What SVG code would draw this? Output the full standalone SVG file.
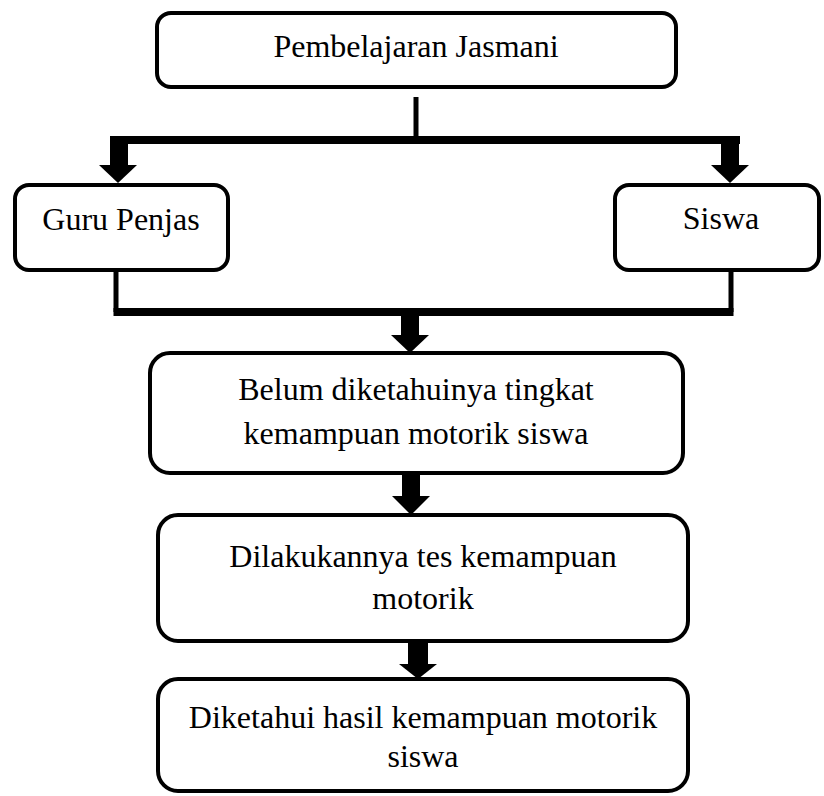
<svg xmlns="http://www.w3.org/2000/svg" width="824" height="796" viewBox="0 0 824 796">
<style>
.box{fill:#fff;stroke:#000;stroke-width:4}
.t{font-family:"Liberation Serif","Times New Roman",serif;font-size:32px;fill:#000;text-anchor:middle}
.ln{stroke:#000;stroke-width:5;fill:none}
.f{fill:#000}
</style>
<rect width="824" height="796" fill="#fff"/>
<g id="connectors">
<line class="ln" x1="416" y1="97" x2="416" y2="140"/>
<rect class="f" x="110" y="136" width="630" height="8"/>
<rect class="f" x="110" y="136" width="18" height="30"/>
<polygon class="f" points="99,165 137,165 118,183"/>
<rect class="f" x="721" y="136" width="18" height="30"/>
<polygon class="f" points="711,165 749,165 730,183"/>
<line class="ln" x1="116" y1="270" x2="116" y2="312"/>
<line class="ln" x1="731" y1="270" x2="731" y2="312"/>
<rect class="f" x="113.5" y="308" width="620" height="8"/>
<rect class="f" x="401" y="315" width="18" height="21"/>
<polygon class="f" points="391,335 429,335 410,353"/>
<rect class="f" x="402" y="473" width="18" height="24"/>
<polygon class="f" points="392,496 430,496 411,515"/>
<rect class="f" x="408" y="641" width="20" height="24"/>
<polygon class="f" points="399,664 437,664 418,679"/>
</g>
<g id="n1">
<rect class="box" x="157" y="13" width="519" height="74" rx="14"/>
<text class="t" x="416" y="57">Pembelajaran Jasmani</text>
</g>
<g id="n2">
<rect class="box" x="15" y="185" width="213" height="85" rx="14"/>
<text class="t" x="121" y="230">Guru Penjas</text>
</g>
<g id="n3">
<rect class="box" x="615" y="185" width="204" height="85" rx="14"/>
<text class="t" x="721" y="229">Siswa</text>
</g>
<g id="n4">
<rect class="box" x="150" y="353" width="533" height="120" rx="20"/>
<text class="t" x="416" y="400">Belum diketahuinya tingkat</text>
<text class="t" x="416" y="444">kemampuan motorik siswa</text>
</g>
<g id="n5">
<rect class="box" x="158" y="515" width="530" height="126" rx="20"/>
<text class="t" x="423" y="567">Dilakukannya tes kemampuan</text>
<text class="t" x="423" y="609">motorik</text>
</g>
<g id="n6">
<rect class="box" x="158" y="679" width="530" height="112" rx="20"/>
<text class="t" x="423" y="728">Diketahui hasil kemampuan motorik</text>
<text class="t" x="423" y="767">siswa</text>
</g>
</svg>
